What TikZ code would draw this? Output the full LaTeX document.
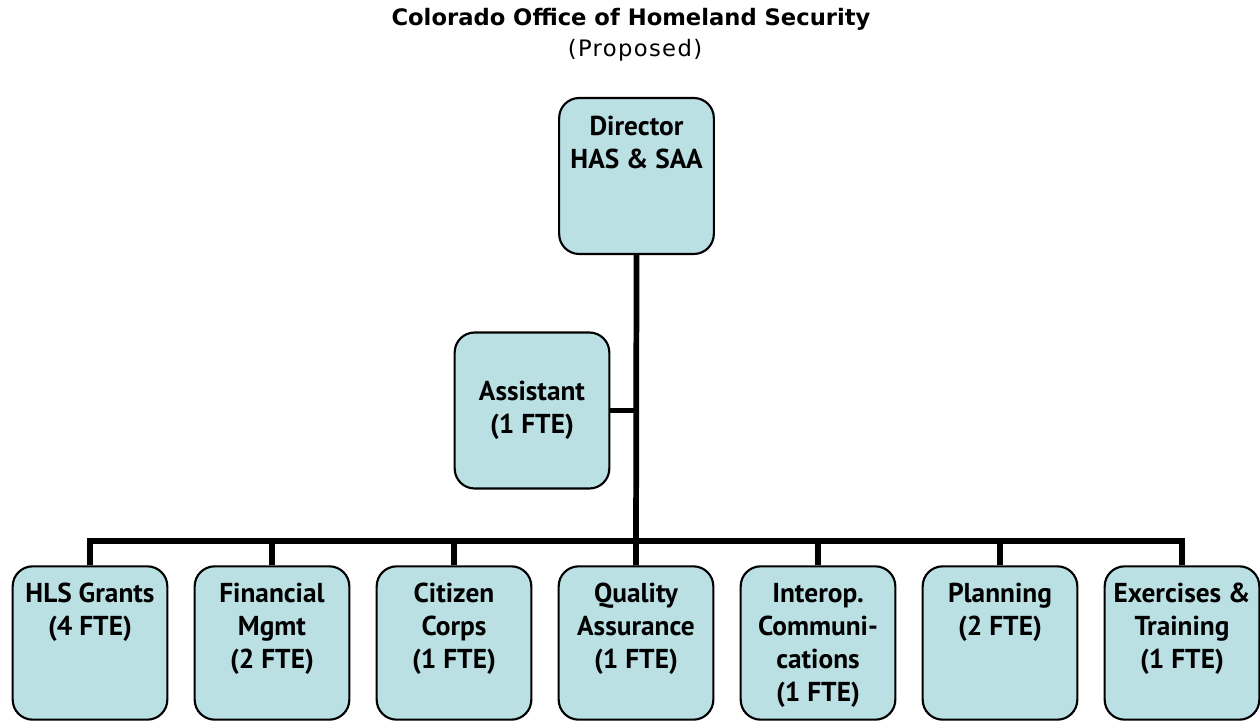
\documentclass[tikz,border=0pt]{standalone}
\usepackage{fontspec}
\setmainfont{PT Sans}
\newfontfamily\titlefont{DejaVu Sans}
\usetikzlibrary{positioning}
\definecolor{boxblue}{RGB}{186,224,228}
\newcommand{\toptext}[1]{\parbox[c][112pt][t]{114pt}{\centering\vspace*{11pt}#1}}

\tikzset{
  orgbox/.style={draw, line width=1.6pt, rounded corners=15pt, fill=boxblue,
    minimum width=116pt, minimum height=115pt, inner sep=0pt,
    font=\fontsize{20.5}{24.75}\selectfont\bfseries, align=center},
  link/.style={line width=4.3pt},
  heading/.style={font=\titlefont\fontsize{17}{20}\selectfont}
}

\begin{document}
\begin{tikzpicture}[x=0.75pt, y=0.75pt]
\useasboundingbox (0,0) rectangle (1260,721);

% Title
\node[heading, font=\titlefont\fontsize{17}{20}\selectfont\bfseries, anchor=base] (title) at (631,695) {Colorado Office of Homeland Security};
\node[heading, font=\titlefont\fontsize{17}{20}\selectfont\addfontfeature{LetterSpace=6}, anchor=base] (sub) at (635,664) {(Proposed)};

% Director and assistant
\node[orgbox, minimum height=117pt] (dir) at (636.5,545) {\toptext{Director\\HAS \& SAA}};
\node[orgbox, minimum height=117pt] (asst) at (532,310.5) {Assistant\\(1 FTE)};

% Units
\node[orgbox] (hls)  at (90,78)   {\toptext{HLS Grants\\(4 FTE)}};
\node[orgbox] (fin)  at (272,78)  {\toptext{Financial\\Mgmt\\(2 FTE)}};
\node[orgbox] (cit)  at (454,78)  {\toptext{Citizen\\Corps\\(1 FTE)}};
\node[orgbox] (qa)   at (636,78)  {\toptext{Quality\\Assurance\\(1 FTE)}};
\node[orgbox] (int)  at (818,78)  {\toptext{Interop.\\Communi-\\cations\\(1 FTE)}};
\node[orgbox] (plan) at (1000,78) {\toptext{Planning\\(2 FTE)}};
\node[orgbox] (ex)   at (1182,78) {\toptext{Exercises \&\\Training\\(1 FTE)}};

% Connectors
\coordinate (bus) at (636,180);
\draw[link] (dir.south) -- (qa.north);
\draw[link] (asst.east) -- (asst.east -| dir.south);
\draw[link] (hls.north) |- (bus) -| (ex.north);
\foreach \n in {fin,cit,int,plan}
  \draw[link] (\n.north) -- (\n.north |- bus);
\end{tikzpicture}
\end{document}
